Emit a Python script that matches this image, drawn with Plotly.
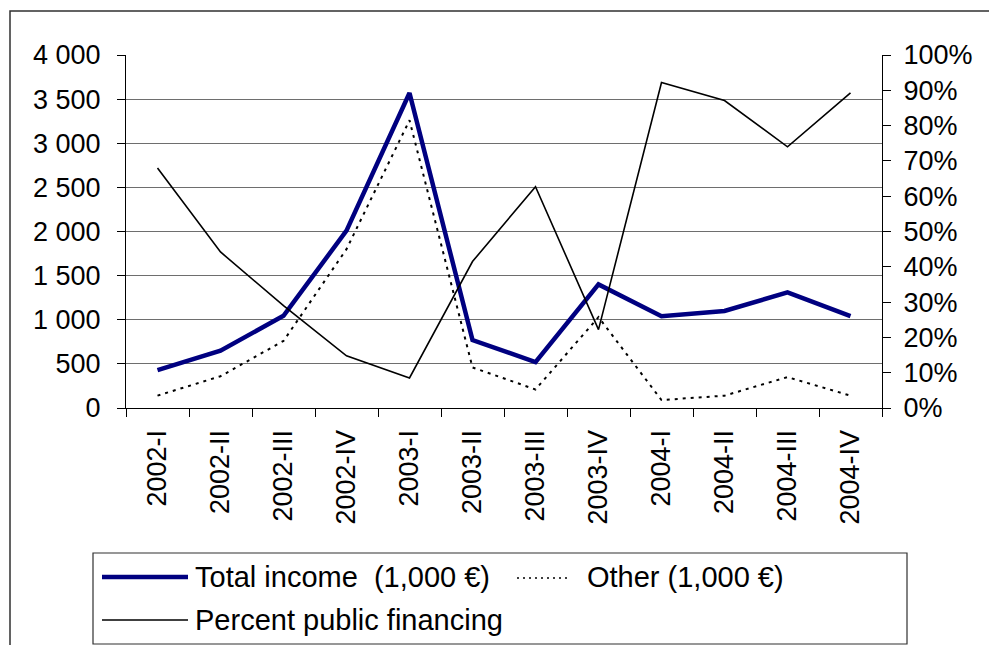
import plotly.graph_objects as go

categories = ["2002-I", "2002-II", "2002-III", "2002-IV",
              "2003-I", "2003-II", "2003-III", "2003-IV",
              "2004-I", "2004-II", "2004-III", "2004-IV"]
total_income = [430, 650, 1045, 2010, 3570, 770, 520, 1400, 1040, 1100, 1310, 1040]
other_income = [140, 360, 760, 1800, 3260, 460, 210, 1030, 90, 140, 350, 140]
percent_public = [0.68, 0.442, 0.29, 0.148, 0.085, 0.415, 0.627, 0.222, 0.922, 0.871, 0.74, 0.893]

left_tickvals = [0, 500, 1000, 1500, 2000, 2500, 3000, 3500, 4000]
left_ticktext = ["0", "500", "1 000", "1 500", "2 000", "2 500", "3 000", "3 500", "4 000"]
right_tickvals = [0, 0.1, 0.2, 0.3, 0.4, 0.5, 0.6, 0.7, 0.8, 0.9, 1.0]
right_ticktext = ["0%", "10%", "20%", "30%", "40%", "50%", "60%", "70%", "80%", "90%", "100%"]

legend_names = ["Total income \u00a0(1,000 \u20ac)", "Other (1,000 \u20ac)", "Percent public financing"]

FONT = "Liberation Sans, Arial, sans-serif"
FS = 27
FS_LEG = 29
W_FIG, H_FIG = 989, 645
L, R, T, B = 126, 882, 55, 408


def px(x):
    return (x - L) / (R - L)


def py(y):
    return (B - y) / (B - T)


fig = go.Figure()
fig.add_trace(go.Scatter(x=categories, y=total_income, mode="lines",
                         name=legend_names[0],
                         line=dict(color="#000080", width=4.5)))
fig.add_trace(go.Scatter(x=categories, y=other_income, mode="lines",
                         name=legend_names[1],
                         line=dict(color="#000000", width=2, dash="3px,5px")))
fig.add_trace(go.Scatter(x=categories, y=percent_public, mode="lines",
                         name=legend_names[2], yaxis="y2",
                         line=dict(color="#000000", width=1.6)))

shapes = []
annotations = []
# outer frame
shapes.append(dict(type="rect", xref="paper", yref="paper",
                   x0=px(10), x1=px(1000), y0=py(11), y1=py(660),
                   line=dict(color="#303030", width=1.5), layer="below"))
# legend box
shapes.append(dict(type="rect", xref="paper", yref="paper",
                   x0=px(93), x1=px(907), y0=py(553), y1=py(644),
                   line=dict(color="#303030", width=1.2)))
# legend samples
samples = [
    (102, 188, 577, dict(color="#000080", width=4.5)),
    (517, 570, 578, dict(color="#000000", width=1.5, dash="2px,4px")),
    (102, 188, 620, dict(color="#000000", width=1.6)),
]
for x0, x1, y, ln in samples:
    shapes.append(dict(type="line", xref="paper", yref="paper",
                       x0=px(x0), x1=px(x1), y0=py(y), y1=py(y), line=ln))
text_pos = [(193, 577), (585, 577), (193, 620)]
for (x, y), name in zip(text_pos, legend_names):
    annotations.append(dict(xref="paper", yref="paper", x=px(x), y=py(y),
                            xanchor="left", yanchor="middle", showarrow=False,
                            text=name, font=dict(family=FONT, size=FS_LEG, color="black")))

fig.update_layout(
    width=W_FIG, height=H_FIG,
    margin=dict(l=L, r=W_FIG - R, t=T, b=H_FIG - B, pad=0),
    paper_bgcolor="white", plot_bgcolor="white",
    showlegend=False,
    font=dict(family=FONT, size=FS, color="black"),
    xaxis=dict(type="category", range=[-0.5, 11.5], tickson="boundaries",
               ticks="outside", ticklen=8, tickcolor="black", tickwidth=1,
               tickangle=-90, showline=True, linecolor="black", linewidth=1.2,
               showgrid=False, automargin=False, ticklabelstandoff=10,
               tickfont=dict(family=FONT, size=FS, color="black")),
    yaxis=dict(range=[0, 4000], tickvals=left_tickvals, ticktext=left_ticktext,
               ticks="outside", ticklen=8, tickcolor="black", tickwidth=1,
               showline=True, linecolor="black", linewidth=1.2,
               showgrid=True, gridcolor="#6e6e6e", gridwidth=1.4,
               zeroline=False, automargin=False, ticklabelstandoff=11,
               tickfont=dict(family=FONT, size=FS, color="black")),
    yaxis2=dict(range=[0, 1], tickvals=right_tickvals, ticktext=right_ticktext,
                overlaying="y", side="right",
                ticks="outside", ticklen=8, tickcolor="black", tickwidth=1,
                showline=True, linecolor="black", linewidth=1.2,
                showgrid=False, zeroline=False, automargin=False,
                ticklabelstandoff=7,
                tickfont=dict(family=FONT, size=FS, color="black")),
    shapes=shapes,
    annotations=annotations,
)

fig.write_html("out.html", config={"displayModeBar": False},
               post_script="document.body.style.margin='0';document.body.style.overflow='hidden';")
